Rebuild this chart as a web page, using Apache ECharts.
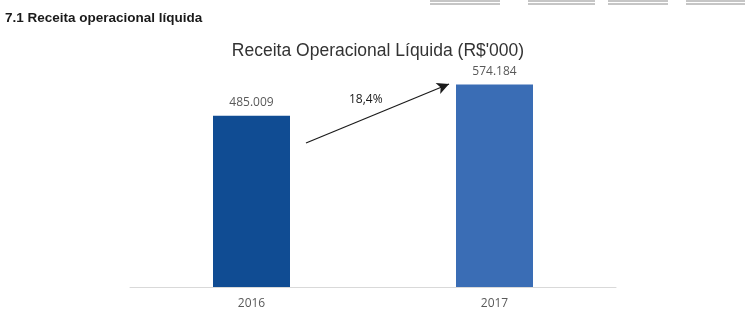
<!DOCTYPE html>
<html>
<head>
<meta charset="utf-8">
<script src="https://cdn.jsdelivr.net/npm/echarts@6/dist/echarts.min.js"></script>
<style>
  html, body { margin: 0; padding: 0; background: #fff; }
  #chart { width: 748px; height: 317px; }
</style>
</head>
<body>
<div id="chart"></div>
<script>
  const years = ['2016', '2017'];
  const receita = [485009, 574184];
  const barColors = ['#104C93', '#3A6DB5'];
  const growthLabel = '18,4%';

  function formatThousands(value) {
    return String(value).replace(/\B(?=(\d{3})+(?!\d))/g, '.');
  }

  const chart = echarts.init(document.getElementById('chart'));

  // traços duplos no topo da página (bordas da tabela anterior)
  const topRules = [[430, 500], [528, 595], [608, 668], [686, 745]];
  const ruleGraphics = [];
  topRules.forEach(([x1, x2]) => {
    [1, 4].forEach((y) => {
      ruleGraphics.push({
        type: 'line',
        shape: { x1, y1: y, x2, y2: y },
        style: { stroke: '#8c8c8c', lineWidth: 1 },
      });
    });
  });

  chart.setOption({
    animation: false,
    title: {
      text: "Receita Operacional Líquida (R$'000)",
      left: 373,
      textAlign: 'center',
      top: 37,
      textStyle: {
        fontFamily: 'Liberation Sans',
        fontWeight: 'normal',
        fontSize: 17.5,
        color: '#333',
      },
    },
    grid: { left: 130, right: 132, top: 40, bottom: 30 },
    xAxis: {
      type: 'category',
      data: years,
      axisTick: { show: false },
      axisLine: { lineStyle: { color: '#D9D9D9', width: 1 } },
      axisLabel: {
        color: '#595959',
        fontSize: 12,
        fontFamily: 'Open Sans',
        margin: 11,
      },
    },
    yAxis: {
      type: 'value',
      min: 0,
      max: 700000,
      show: false,
      splitLine: { show: false },
    },
    series: [
      {
        type: 'bar',
        barWidth: 77,
        data: receita.map((v, i) => ({ value: v, itemStyle: { color: barColors[i] } })),
        label: {
          show: true,
          position: 'top',
          distance: 7,
          color: '#595959',
          fontSize: 12,
          fontFamily: 'Open Sans',
          formatter: (p) => formatThousands(p.value),
        },
        markLine: {
          silent: true,
          symbol: ['none', 'arrow'],
          symbolSize: [9, 12],
          label: { show: false },
          lineStyle: { color: '#1a1a1a', width: 1.2, type: 'solid' },
          data: [[{ x: 306, y: 143 }, { x: 449, y: 84 }]],
        },
      },
    ],
    graphic: [
      {
        type: 'text',
        left: 5,
        top: 11,
        style: {
          text: '7.1 Receita operacional líquida',
          font: 'bold 13.5px "Liberation Sans Narrow", "Liberation Sans", sans-serif',
          fill: '#1a1a1a',
        },
      },
      {
        type: 'text',
        left: 349,
        top: 94,
        style: {
          text: growthLabel,
          font: '12px "Open Sans", sans-serif',
          fill: '#1a1a1a',
        },
      },
      ...ruleGraphics,
    ],
  });
</script>
</body>
</html>
